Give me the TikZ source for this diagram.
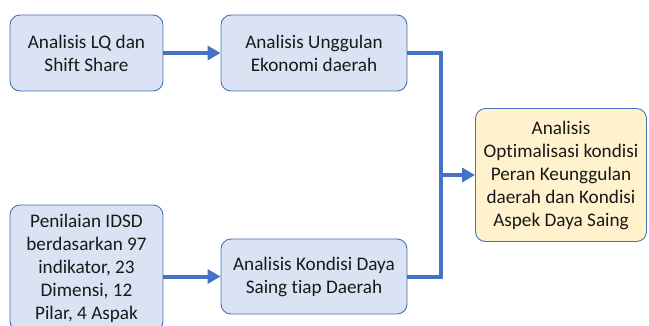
\documentclass[tikz,border=0pt]{standalone}
\usepackage{fontspec}
\setmainfont{Carlito}[Ligatures=NoCommon]
\usetikzlibrary{arrows.meta}
\definecolor{boxfill}{HTML}{DAE3F3}
\definecolor{boxline}{HTML}{4A6FB5}
\definecolor{endfill}{HTML}{FFF2CC}
\definecolor{conncol}{HTML}{4472C4}
\begin{document}
\begin{tikzpicture}[x=1pt,y=-1pt,
  box/.style={draw=boxline, line width=0.9pt, fill=boxfill, rounded corners=10pt,
    align=center, inner sep=0pt, font=\fontsize{19.2}{23}\selectfont, text=black!90},
  endbox/.style={box, fill=endfill},
  conn/.style={draw=conncol, line width=4pt, line join=miter},
  arr/.style={conn, -{Triangle[length=13pt,width=14pt]}}]
\useasboundingbox (0,0) rectangle (649,325);
\node[box, minimum width=153pt, minimum height=76pt] (a) at (86.5,53) {Analisis LQ dan\\Shift Share};
\node[box, minimum width=186pt, minimum height=76pt] (b) at (314,53) {Analisis Unggulan\\Ekonomi daerah};
\node[box, minimum width=153pt, minimum height=126pt] (c) at (86.5,268) {Penilaian IDSD\\berdasarkan 97\\indikator, 23\\Dimensi, 12\\Pilar, 4 Aspak};
\node[box, minimum width=186pt, minimum height=75pt] (d) at (314,276.5) {Analisis Kondisi Daya\\Saing tiap Daerah};
\node[endbox, minimum width=171pt, minimum height=133pt] (e) at (561,175) {Analisis\\Optimalisasi kondisi\\Peran Keunggulan\\daerah dan Kondisi\\Aspek Daya Saing};
\coordinate (j) at (441,175);
\draw[arr] (a.east) -- (b.west);
\draw[arr] (c.east |- d.west) -- (d.west);
\draw[conn] (b.east) -| (j);
\draw[conn] (d.east) -| (j);
\draw[arr] (j) -- (e.west);
\end{tikzpicture}
\end{document}
